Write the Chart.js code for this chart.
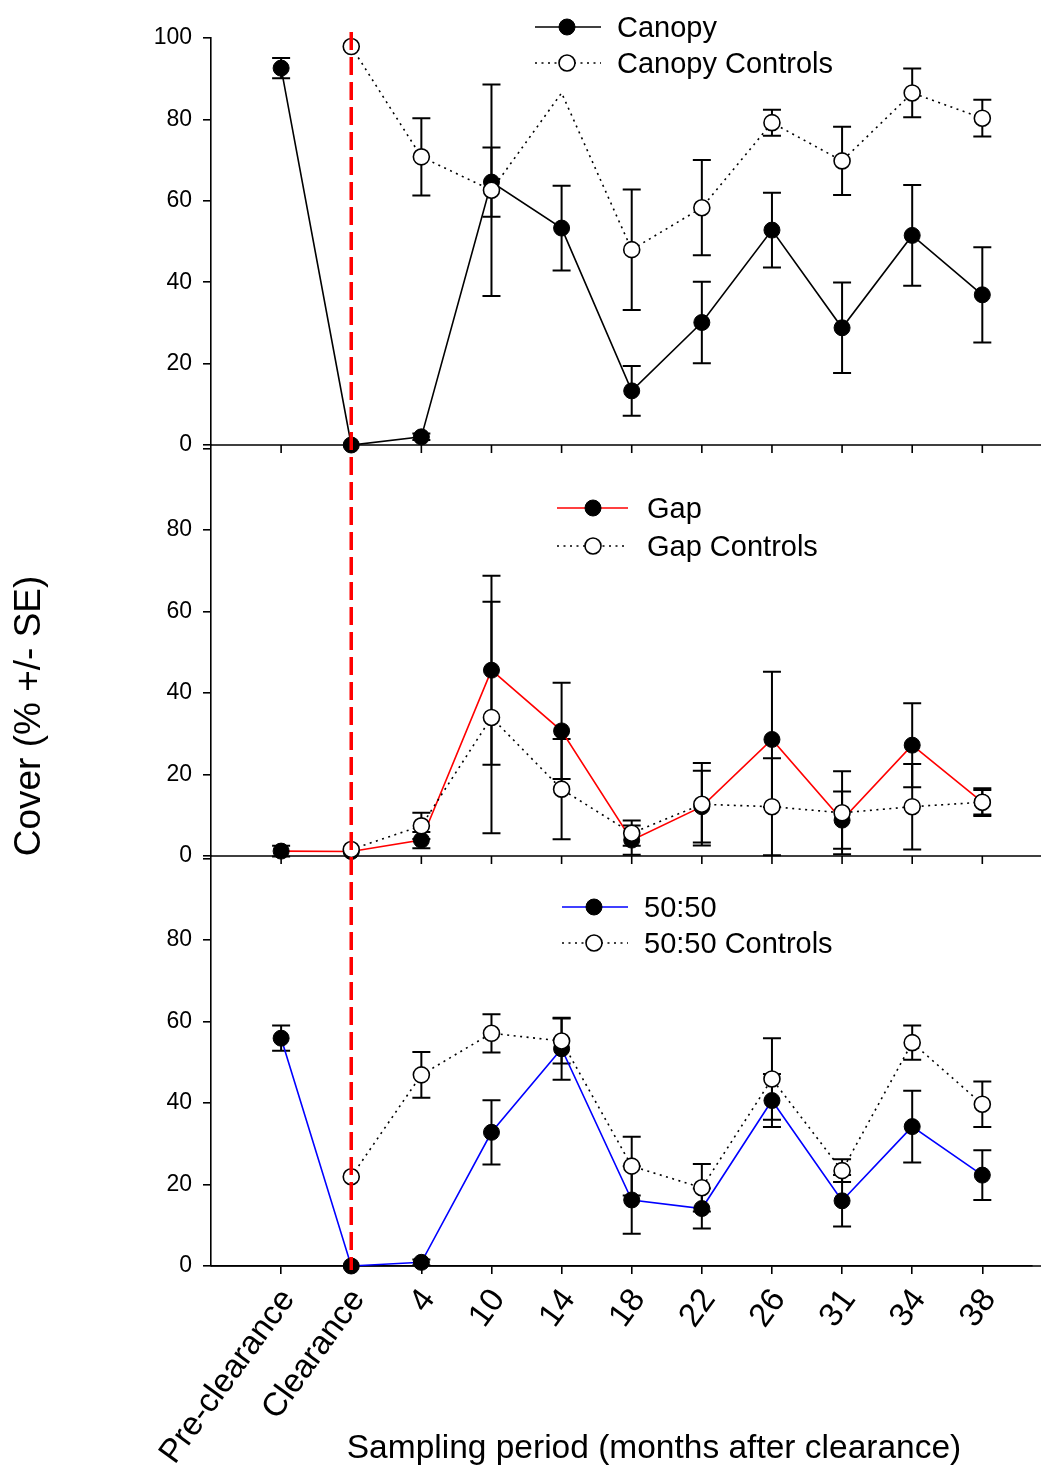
<!DOCTYPE html>
<html><head><meta charset="utf-8">
<script src="https://cdn.jsdelivr.net/npm/chart.js@4/dist/chart.umd.min.js"></script>
<style>html,body{margin:0;padding:0;background:#fff}canvas{display:block}</style>
</head><body>
<canvas id="c" width="1041" height="1470"></canvas>
<script>
// ---- data ----
const categories = ['Pre-clearance','Clearance','4','10','14','18','22','26','31','34','38'];
const yTicks = [0, 20, 40, 60, 80, 100];

const canopy            = [92.6, 0, 2.0, 64.6, 53.3, 13.3, 30.1, 52.8, 28.8, 51.5, 36.9];
const canopySE          = [2.5, 0, 0.8, 8.5, 10.4, 6.1, 10.0, 9.2, 11.1, 12.4, 11.7];
const canopyControls    = [null, 97.9, 70.8, 62.6, 86.5, 48.0, 58.3, 79.2, 69.8, 86.5, 80.3];
const canopyControlsSE  = [null, 0, 9.5, 26.0, null, 14.8, 11.7, 3.2, 8.4, 6.0, 4.5];
const canopyControlsNoMarker = [4];

const gap               = [1.2, 1.1, 3.9, 45.6, 30.7, 3.9, 12.1, 28.6, 8.8, 27.2, 13.2];
const gapSE             = [1.3, 0, 2.0, 23.2, 11.8, 3.6, 8.8, 16.6, 7.0, 10.3, 3.0];
const gapControls       = [null, 1.6, 7.4, 34.0, 16.4, 5.6, 12.7, 12.1, 10.6, 12.1, 13.2];
const gapControlsSE     = [null, 0, 3.2, 28.4, 12.3, 3.1, 10.1, 11.9, 10.2, 10.5, 3.4];

const mix               = [55.9, 0, 0.9, 32.8, 53.3, 16.2, 14.1, 40.6, 16.0, 34.2, 22.3];
const mixSE             = [3.1, 0, 0.7, 7.9, 7.6, 8.3, 4.9, 6.5, 6.3, 8.8, 6.1];
const mixControls       = [null, 21.9, 46.9, 57.1, 55.2, 24.5, 19.2, 45.9, 23.4, 54.8, 39.7];
const mixControlsSE     = [null, 0, 5.6, 4.7, 5.5, 7.2, 5.8, 10.0, 2.8, 4.2, 5.6];

const clearanceIndex = 1;
const yTitle = 'Cover (% +/- SE)';
const xTitle = 'Sampling period (months after clearance)';

// ---- styling ----
const FONT = '"Liberation Sans", Arial, Helvetica, sans-serif';
const DOT = [2, 4.5];
const pts = arr => arr.map((v, i) => ({x: i, y: v}));

function treatment(label, data, errors, color, axis) {
  return {label, data: pts(data), errors, yAxisID: axis, borderColor: color, borderWidth: 1.6,
    pointRadius: 8, pointBackgroundColor: '#000', pointBorderColor: '#000', pointBorderWidth: 1,
    fill: false, tension: 0, clip: false, order: 2, _filled: true};
}
function control(label, data, errors, axis, noMarker) {
  return {label, data: pts(data), errors, yAxisID: axis, borderColor: '#000', borderWidth: 1.6,
    borderDash: DOT, pointRadius: ctx => (noMarker || []).includes(ctx.dataIndex) ? 0 : 8,
    pointBackgroundColor: '#fff', pointBorderColor: '#000', pointBorderWidth: 1.6,
    fill: false, tension: 0, clip: false, order: 1, _filled: false};
}

const datasets = [
  treatment('Canopy', canopy, canopySE, '#000', 'y1'),
  control('Canopy Controls', canopyControls, canopyControlsSE, 'y1', canopyControlsNoMarker),
  treatment('Gap', gap, gapSE, '#ff0000', 'y2'),
  control('Gap Controls', gapControls, gapControlsSE, 'y2'),
  treatment('50:50', mix, mixSE, '#0000ff', 'y3'),
  control('50:50 Controls', mixControls, mixControlsSE, 'y3'),
];

const legends = [
  {sets: [0, 1], x0: 535, x1: 601, mx: 567, tx: 617, rows: [27, 63]},
  {sets: [2, 3], x0: 557, x1: 628, mx: 593, tx: 647, rows: [508, 546]},
  {sets: [4, 5], x0: 562, x1: 628, mx: 594, tx: 644, rows: [907, 943]},
];

const errorBars = {
  id: 'errorBars',
  beforeDatasetsDraw(chart) {
    const ctx = chart.ctx, xs = chart.scales.x;
    ctx.save();
    ctx.strokeStyle = '#000'; ctx.lineWidth = 2;
    chart.data.datasets.forEach(ds => {
      const ys = chart.scales[ds.yAxisID];
      ds.data.forEach((p, i) => {
        const e = ds.errors[i];
        if (p.y == null || !e) return;
        const x = xs.getPixelForValue(p.x);
        const a = ys.getPixelForValue(p.y + e), b = ys.getPixelForValue(p.y - e);
        ctx.beginPath();
        ctx.moveTo(x, a); ctx.lineTo(x, b);
        ctx.moveTo(x - 9, a); ctx.lineTo(x + 9, a);
        ctx.moveTo(x - 9, b); ctx.lineTo(x + 9, b);
        ctx.stroke();
      });
    });
    ctx.restore();
  }
};

const panelAxes = {
  id: 'panelAxes',
  beforeDatasetsDraw(chart) {
    const ctx = chart.ctx, xs = chart.scales.x, area = chart.chartArea;
    ctx.save();
    ctx.strokeStyle = '#000'; ctx.lineWidth = 1.6;
    ['y1', 'y2', 'y3'].forEach(id => {
      const y = chart.scales[id].getPixelForValue(0);
      ctx.beginPath();
      ctx.moveTo(area.left, y); ctx.lineTo(chart.width, y);
      if (id !== 'y3') {
        xs.ticks.forEach(t => {
          const x = xs.getPixelForValue(t.value);
          ctx.moveTo(x, y); ctx.lineTo(x, y + 8);
        });
      }
      ctx.stroke();
    });
    ctx.restore();
  }
};

const overlay = {
  id: 'overlay',
  afterDatasetsDraw(chart) {
    const ctx = chart.ctx, xs = chart.scales.x, area = chart.chartArea;
    const x = xs.getPixelForValue(clearanceIndex);
    ctx.save();
    ctx.strokeStyle = '#ff0000'; ctx.lineWidth = 3.5; ctx.setLineDash([18, 7]);
    ctx.beginPath(); ctx.moveTo(x, area.top - 6); ctx.lineTo(x, area.bottom + 4); ctx.stroke();
    ctx.restore();
  },
  afterDraw(chart) {
    const ctx = chart.ctx;
    ctx.save();
    legends.forEach(lg => {
      lg.sets.forEach((si, r) => {
        const ds = chart.data.datasets[si];
        const y = lg.rows[r];
        ctx.strokeStyle = ds.borderColor; ctx.lineWidth = 1.6;
        ctx.setLineDash(ds.borderDash || []);
        ctx.beginPath(); ctx.moveTo(lg.x0, y); ctx.lineTo(lg.x1, y); ctx.stroke();
        ctx.setLineDash([]);
        ctx.beginPath(); ctx.arc(lg.mx, y, 8, 0, Math.PI * 2);
        ctx.fillStyle = ds._filled ? '#000' : '#fff'; ctx.fill();
        ctx.strokeStyle = '#000'; ctx.lineWidth = ds._filled ? 1 : 1.6; ctx.stroke();
        ctx.fillStyle = '#000'; ctx.font = '29px ' + FONT;
        ctx.textAlign = 'left'; ctx.textBaseline = 'alphabetic';
        ctx.fillText(ds.label, lg.tx, y + 10);
      });
    });
    ctx.fillStyle = '#000';
    ctx.font = '33.5px ' + FONT; ctx.textAlign = 'center'; ctx.textBaseline = 'alphabetic';
    ctx.fillText(xTitle, 654, 1458);
    ctx.translate(40, 716); ctx.rotate(-Math.PI / 2);
    ctx.font = '37px ' + FONT;
    ctx.fillText(yTitle, 0, 0);
    ctx.restore();
  }
};

function yAxis(max, weight, showTop) {
  return {
    type: 'linear', position: 'left', stack: 'panels', stackWeight: weight,
    min: 0, max: max,
    afterBuildTicks: s => { s.ticks = yTicks.map(v => ({value: v})); },
    afterFit: s => { s.width = 211; },
    border: {display: true, color: '#000', width: 1.6},
    grid: {drawOnChartArea: false, drawTicks: true, tickLength: 8, color: '#000', lineWidth: 1.6},
    ticks: {color: '#000', font: {family: FONT, size: 23}, padding: 11,
      callback: v => (v === 100 && !showTop) ? '' : String(v)}
  };
}

Chart.defaults.font.family = FONT;
new Chart(document.getElementById('c'), {
  type: 'line',
  data: {datasets},
  plugins: [errorBars, panelAxes, overlay],
  options: {
    responsive: false, animation: false, events: [],
    layout: {padding: {top: 38, right: 0, bottom: 0, left: 0}},
    plugins: {legend: {display: false}, tooltip: {enabled: false}},
    scales: {
      x: {
        type: 'linear', min: -1, max: 10.70,
        afterBuildTicks: s => { s.ticks = categories.map((_, i) => ({value: i})); },
        afterFit: s => { s.height = 204; s.paddingRight = 0; s.paddingLeft = 0; },
        border: {display: true, color: '#000', width: 1.6},
        grid: {drawOnChartArea: false, drawTicks: true, tickLength: 8, color: '#000', lineWidth: 1.6},
        ticks: {color: '#000', font: {family: FONT, size: 33}, minRotation: 54, maxRotation: 54,
          padding: 8, labelOffset: 7, autoSkip: false, callback: v => categories[v]}
      },
      y3: yAxis(100.6, 410, false),
      y2: yAxis(100.86, 411, false),
      y1: yAxis(100, 407, true)
    }
  }
});
</script>
</body></html>
